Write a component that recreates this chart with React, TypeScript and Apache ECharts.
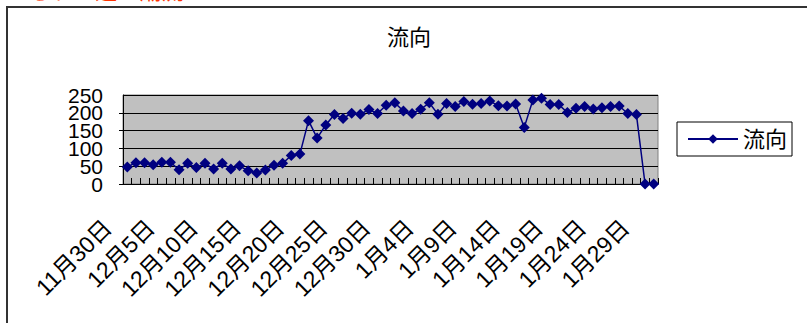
import React, { useEffect, useRef } from "react";
import * as echarts from "echarts";

const categories: string[] = [
  "11月30日",
  "12月1日", "12月2日", "12月3日", "12月4日", "12月5日", "12月6日", "12月7日", "12月8日", "12月9日", "12月10日",
  "12月11日", "12月12日", "12月13日", "12月14日", "12月15日", "12月16日", "12月17日", "12月18日", "12月19日", "12月20日",
  "12月21日", "12月22日", "12月23日", "12月24日", "12月25日", "12月26日", "12月27日", "12月28日", "12月29日", "12月30日", "12月31日",
  "1月1日", "1月2日", "1月3日", "1月4日", "1月5日", "1月6日", "1月7日", "1月8日", "1月9日", "1月10日",
  "1月11日", "1月12日", "1月13日", "1月14日", "1月15日", "1月16日", "1月17日", "1月18日", "1月19日", "1月20日",
  "1月21日", "1月22日", "1月23日", "1月24日", "1月25日", "1月26日", "1月27日", "1月28日", "1月29日", "1月30日",
];

const flowValues: number[] = [
  48, 60, 60, 54, 61, 61, 40, 58, 46, 58,
  42, 58, 42, 51, 37, 31, 39, 53, 58, 80,
  84, 178, 129, 166, 195, 184, 199, 196, 209, 198,
  221, 228, 205, 198, 210, 228, 196, 226, 218, 232,
  224, 226, 233, 220, 219, 225, 159, 236, 241, 223,
  223, 201, 213, 218, 211, 214, 218, 219, 198, 195,
  0, 0,
];

// y-axis tick labels, split into two alternating sets so that the
// overlapping labels (as in the reference) are all drawn
const yTicksA: number[] = [0, 100, 200];
const yTicksB: number[] = [50, 150, 250];

const seriesName = "流向";
const chartTitle = "流向";
const topNote = "られて遅い潮流";

const FONT = "'Liberation Sans', Arial, 'Noto Sans CJK JP', sans-serif";

export default function App() {
  const ref = useRef<HTMLDivElement>(null);
  useEffect(() => {
    if (!ref.current) return;
    const chart = echarts.init(ref.current, undefined, { renderer: "svg" });
    const yLabelBase = {
      fontSize: 21,
      lineHeight: 14,
      color: "#000",
      margin: 20,
      hideOverlap: false,
      fontFamily: FONT,
    };
    chart.setOption({
      animation: false,
      backgroundColor: "#ffffff",
      textStyle: { fontFamily: FONT },
      title: {
        text: chartTitle,
        left: 382,
        top: 21,
        textStyle: { fontSize: 22, fontWeight: "normal", color: "#000", fontFamily: FONT },
      },
      graphic: [
        {
          type: "rect",
          shape: { x: 7, y: 7, width: 840, height: 360 },
          style: { fill: "none", stroke: "#333", lineWidth: 2 },
          silent: true,
        },
        {
          type: "text",
          x: 30,
          y: 2,
          style: {
            text: topNote,
            fill: "#ff3300",
            fontSize: 22,
            fontFamily: FONT,
            verticalAlign: "bottom",
          },
          silent: true,
        },
      ],
      legend: {
        left: 677,
        top: 122,
        orient: "vertical",
        padding: [6, 5, 6, 10],
        borderColor: "#000",
        borderWidth: 1,
        itemWidth: 50,
        itemHeight: 12,
        textStyle: { fontSize: 22, color: "#000", fontFamily: FONT },
        data: [seriesName],
      },
      grid: {
        left: 123,
        top: 95,
        right: 149,
        bottom: 139,
        show: true,
        backgroundColor: "#c0c0c0",
        borderColor: "#808080",
        borderWidth: 1,
        containLabel: false,
      },
      xAxis: {
        type: "category",
        data: categories,
        boundaryGap: true,
        axisLine: { show: true, lineStyle: { color: "#000", width: 1 } },
        axisTick: { show: true, inside: true, length: 6, interval: 0, lineStyle: { color: "#000" } },
        axisLabel: {
          interval: 4,
          rotate: 45,
          fontSize: 23,
          lineHeight: 14,
          color: "#000",
          margin: 20,
          padding: [0, 28, 0, 0],
          hideOverlap: false,
          fontFamily: FONT,
        },
        splitLine: { show: false },
      },
      yAxis: [
        {
          type: "value",
          position: "left",
          min: 0,
          max: 250,
          interval: 50,
          axisLine: { show: true, lineStyle: { color: "#000", width: 1 } },
          axisTick: { show: true, inside: false, length: 4, lineStyle: { color: "#000" } },
          axisLabel: {
            ...yLabelBase,
            showMinLabel: true,
            showMaxLabel: false,
            formatter: (v: number) => (yTicksA.indexOf(v) >= 0 ? String(v) : ""),
          },
          splitLine: { show: true, lineStyle: { color: "#000", width: 1 } },
        },
        {
          type: "value",
          position: "left",
          offset: 0,
          min: 0,
          max: 250,
          interval: 50,
          axisLine: { show: false },
          axisTick: { show: false },
          axisLabel: {
            ...yLabelBase,
            showMinLabel: false,
            showMaxLabel: true,
            formatter: (v: number) => (yTicksB.indexOf(v) >= 0 ? String(v) : ""),
          },
          splitLine: { show: false },
        },
      ],
      series: [
        {
          name: seriesName,
          type: "line",
          yAxisIndex: 0,
          data: flowValues,
          symbol: "diamond",
          symbolSize: 11,
          showAllSymbol: true,
          color: "#000080",
          lineStyle: { color: "#000080", width: 1.5 },
          itemStyle: { color: "#000080" },
        },
      ],
    });
    return () => chart.dispose();
  }, []);
  return (
    <div
      ref={ref}
      style={{ position: "absolute", left: 0, top: 0, width: 807, height: 323 }}
    />
  );
}
